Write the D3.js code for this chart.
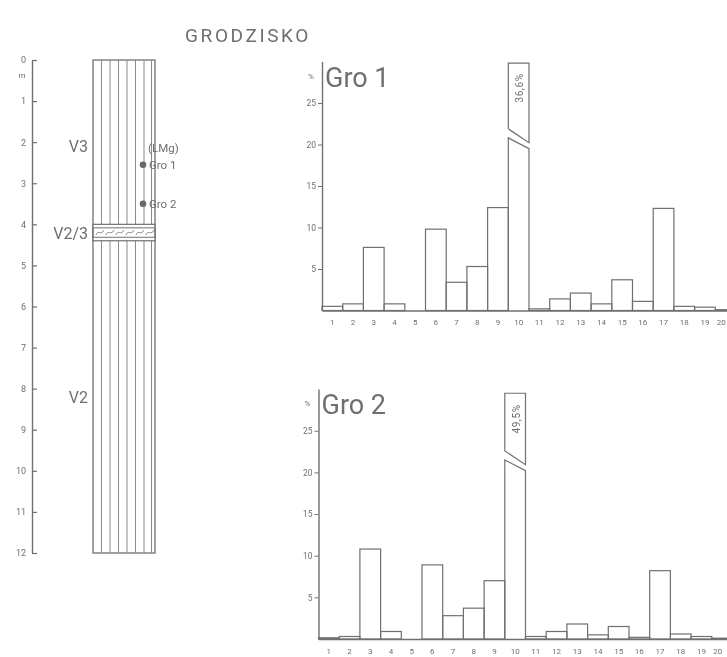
<!DOCTYPE html>
<html>
<head>
<meta charset="utf-8">
<script src="https://cdn.jsdelivr.net/npm/d3@7"></script>
<style>
  html, body { margin: 0; padding: 0; background: #fff; }
  svg { display: block; will-change: transform; }
  text { font-family: Roboto, "DejaVu Sans", sans-serif; fill: #6f6f6f; }
</style>
</head>
<body>
<script>
// Grain-size classes shown on the horizontal axis of both histograms
const classes = ["1","2","3","4","5","6","7","8","9","10","11","12","13","14","15","16","17","18","19","20"];

// Percentage of each class in sample Gro 1 and Gro 2
const gro1Values = [0.5, 0.8, 7.6, 0.8, 0, 9.8, 3.4, 5.3, 12.4, 36.6, 0.2, 1.4, 2.1, 0.8, 3.7, 1.1, 12.3, 0.5, 0.4, 0.1];
const gro2Values = [0.15, 0.3, 10.8, 0.9, 0, 8.9, 2.8, 3.7, 7.0, 49.5, 0.3, 0.9, 1.8, 0.5, 1.5, 0.2, 8.2, 0.6, 0.3, 0.1];

// Percentage axis
const percentTicks = [5, 10, 15, 20, 25];
const percentMax = 30;
// Level at which an over-tall bar is cut, and its displayed height
const gro1Break = 20.8, gro2Break = 21.5;
const gro1Cap = 29.8, gro2Cap = 29.5;

// Section profile (depth in metres)
const depthTicks = [0,1,2,3,4,5,6,7,8,9,10,11,12];
const units = [
  { name: "V3",   labelDepth: 2.1 },
  { name: "V2/3", labelDepth: 4.2 },
  { name: "V2",   labelDepth: 8.2 }
];
const layerTop = 4.0, layerBottom = 4.4;
const samples = [
  { name: "Gro 1", depth: 2.55 },
  { name: "Gro 2", depth: 3.5 }
];

const W = 727, H = 657;
const ink = "#707070";

const svg = d3.select("body").append("svg").attr("width", W).attr("height", H);

// ---- title
svg.append("text")
  .attr("x", 248).attr("y", 42)
  .attr("text-anchor", "middle")
  .attr("font-size", 19)
  .attr("letter-spacing", 2.6)
  .text("GRODZISKO");

// ---- depth profile
const depth = d3.scaleLinear().domain([0, 12]).range([60, 553]);
const colX0 = 93, colX1 = 155;

const depthAxis = d3.axisLeft(depth)
  .tickValues(depthTicks)
  .tickSizeInner(-5)
  .tickSizeOuter(0)
  .tickPadding(6);

const gDepth = svg.append("g").attr("transform", "translate(32,0)").call(depthAxis);
gDepth.select(".domain").attr("stroke", ink).attr("stroke-width", 1.4);
gDepth.selectAll(".tick line").attr("stroke", ink).attr("stroke-width", 1.2);
gDepth.selectAll(".tick text").attr("font-size", 9).attr("fill", "#7a7a7a")
  .style("font-family", "Roboto, sans-serif");
svg.append("text").attr("x", 22).attr("y", 78).attr("text-anchor", "middle")
  .attr("font-size", 8).text("m");

// column body
const gCol = svg.append("g");
gCol.append("rect")
  .attr("x", colX0).attr("y", depth(0))
  .attr("width", colX1 - colX0).attr("height", depth(12) - depth(0))
  .attr("fill", "#fff").attr("stroke", ink).attr("stroke-width", 1.3);

// vertical hatching (silty deposit)
const hatchX = [101.5, 110, 118.5, 127, 135.5, 144, 151.5];
gCol.selectAll("line.hatch").data(hatchX).join("line")
  .attr("class", "hatch")
  .attr("x1", d => d).attr("x2", d => d)
  .attr("y1", depth(0)).attr("y2", depth(12))
  .attr("stroke", "#8a8a8a").attr("stroke-width", 1);

// thin interbed with wavy signature
const yL0 = depth(layerTop), yL1 = depth(layerBottom);
gCol.append("rect")
  .attr("x", colX0).attr("y", yL0).attr("width", colX1 - colX0).attr("height", yL1 - yL0)
  .attr("fill", "#fff").attr("stroke", ink).attr("stroke-width", 1.2);
const innerTop = yL0 + 3.5, innerBot = yL1 - 3.5;
gCol.append("rect")
  .attr("x", colX0).attr("y", innerTop).attr("width", colX1 - colX0).attr("height", innerBot - innerTop)
  .attr("fill", "none").attr("stroke", ink).attr("stroke-width", 1);
const wave = d3.path();
const midY = (innerTop + innerBot) / 2;
for (let x = colX0 + 3; x < colX1 - 8; x += 10) {
  wave.moveTo(x, midY + 2.5);
  wave.bezierCurveTo(x + 2, midY - 3.5, x + 5, midY + 3.5, x + 8, midY - 2.5);
}
gCol.append("path").attr("d", wave.toString())
  .attr("fill", "none").attr("stroke", "#7a7a7a").attr("stroke-width", 0.9);

// unit labels
svg.selectAll("text.unit").data(units).join("text")
  .attr("class", "unit")
  .attr("x", 88).attr("y", d => depth(d.labelDepth) + 6)
  .attr("text-anchor", "end")
  .attr("font-size", 16)
  .text(d => d.name);

// sample points
svg.append("text").attr("x", 148).attr("y", 152).attr("font-size", 11.5).text("(LMg)");
svg.selectAll("circle.sample").data(samples).join("circle")
  .attr("class", "sample")
  .attr("cx", 143).attr("cy", d => depth(d.depth)).attr("r", 3.3)
  .attr("fill", "#6a6a6a");
svg.selectAll("text.sample").data(samples).join("text")
  .attr("class", "sample")
  .attr("x", 149).attr("y", d => depth(d.depth) + 4.5)
  .attr("font-size", 11.5)
  .text(d => d.name);

// ---- histograms
function histogram(opts) {
  const { name, values, brk, cap, axisX, baseY, pxPerPct, labelY } = opts;
  const g = svg.append("g");
  const x = d3.scaleBand().domain(classes).range([axisX, axisX + classes.length * 20.7]).padding(0);
  const y = d3.scaleLinear().domain([0, percentMax]).range([baseY, baseY - percentMax * pxPerPct]);

  // ordinary bars
  const normal = values.map((v, i) => ({ c: classes[i], v })).filter(d => d.v > 0 && d.v <= percentMax);
  g.selectAll("rect.bar").data(normal).join("rect")
    .attr("class", "bar")
    .attr("x", d => x(d.c)).attr("width", x.bandwidth())
    .attr("y", d => y(d.v)).attr("height", d => y(0) - y(d.v))
    .attr("fill", "none").attr("stroke", ink).attr("stroke-width", 1.2);

  // bars that exceed the axis are drawn cut, with their value written in
  const tall = values.map((v, i) => ({ c: classes[i], v })).filter(d => d.v > percentMax);
  tall.forEach(d => {
    const x0 = x(d.c), x1 = x0 + x.bandwidth();
    const lowL = y(brk), lowR = y(brk - 1.3);
    const gap = 9;
    const lower = d3.path();
    lower.moveTo(x0, y(0)); lower.lineTo(x0, lowL); lower.lineTo(x1, lowR); lower.lineTo(x1, y(0));
    g.append("path").attr("d", lower.toString())
      .attr("fill", "none").attr("stroke", ink).attr("stroke-width", 1.2);
    const upper = d3.path();
    upper.moveTo(x0, lowL - gap); upper.lineTo(x0, y(cap)); upper.lineTo(x1, y(cap)); upper.lineTo(x1, lowR - gap + 3);
    upper.lineTo(x0, lowL - gap);
    g.append("path").attr("d", upper.toString())
      .attr("fill", "none").attr("stroke", ink).attr("stroke-width", 1.2);
    const cx = (x0 + x1) / 2 + 1;
    g.append("text")
      .attr("transform", `translate(${cx},${labelY}) rotate(-90)`)
      .attr("text-anchor", "middle").attr("dy", "0.35em")
      .attr("font-size", 10)
      .attr("letter-spacing", 0.6)
      .text(d3.format(".1f")(d.v).replace(".", ",") + "%");
  });

  // horizontal axis with class numbers
  const xAxis = d3.axisBottom(x).tickSize(0).tickPadding(9);
  const gx = g.append("g").attr("transform", `translate(0,${baseY})`).call(xAxis);
  gx.select(".domain").attr("stroke", ink).attr("stroke-width", 1.4);
  gx.selectAll(".tick text").attr("font-size", 8).attr("fill", "#888")
    .style("font-family", "Roboto, sans-serif");
  // the last class sits against the page edge; keep its number inside
  gx.selectAll(".tick").filter(c => c === classes[classes.length - 1])
    .select("text").attr("text-anchor", "end").attr("x", 0);

  // percentage axis
  const yAxis = d3.axisLeft(y).tickValues(percentTicks).tickSizeInner(4).tickSizeOuter(0).tickPadding(2);
  const gy = g.append("g").attr("transform", `translate(${axisX},0)`).call(yAxis);
  gy.select(".domain").attr("stroke", ink).attr("stroke-width", 1.4);
  gy.selectAll(".tick line").attr("stroke", ink);
  gy.selectAll(".tick text").attr("font-size", 8.5).attr("fill", "#888")
    .style("font-family", "Roboto, sans-serif");

  g.append("text").attr("x", axisX - 14).attr("y", y(percentMax) + 17)
    .attr("font-size", 8).text("%");
  g.append("text").attr("x", axisX + 3).attr("y", y(percentMax) + 25)
    .attr("font-size", 27).text(name);
}

histogram({ name: "Gro 1", values: gro1Values, brk: gro1Break, cap: gro1Cap,
  axisX: 322, baseY: 310.5, pxPerPct: 8.3, labelY: 88 });
histogram({ name: "Gro 2", values: gro2Values, brk: gro2Break, cap: gro2Cap,
  axisX: 318.5, baseY: 639, pxPerPct: 8.33, labelY: 419 });
</script>
</body>
</html>
